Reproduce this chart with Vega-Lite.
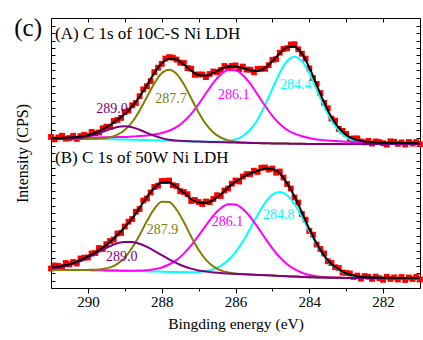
{
  "$schema": "https://vega.github.io/schema/vega-lite/v6.json",
  "width": 369,
  "height": 270,
  "autosize": "none",
  "padding": {"left": 51, "top": 18, "right": 3, "bottom": 52},
  "background": "white",
  "config": {
    "view": {"stroke": null},
    "font": "Liberation Serif",
    "axis": {"grid": false, "domainColor": "black", "domainWidth": 1, "tickColor": "black", "tickWidth": 1, "labelColor": "black", "titleColor": "black", "labelFont": "Liberation Serif", "titleFont": "Liberation Serif", "titleFontWeight": "normal"}
  },
  "datasets": {
    "fits": [
      {"E":291.0,"A_C":149.0,"A_M":149.9,"A_O":149.0,"A_P":149.1,"A_T":150.0,"B_C":18.0,"B_M":18.0,"B_O":18.0,"B_P":19.4,"B_T":20.5},
      {"E":290.8,"A_C":149.0,"A_M":150.0,"A_O":149.0,"A_P":149.1,"A_T":150.1,"B_C":18.0,"B_M":18.0,"B_O":18.0,"B_P":20.4,"B_T":21.5},
      {"E":290.6,"A_C":149.0,"A_M":150.1,"A_O":149.0,"A_P":149.2,"A_T":150.3,"B_C":18.0,"B_M":18.0,"B_O":18.0,"B_P":22.0,"B_T":23.0},
      {"E":290.4,"A_C":149.0,"A_M":150.2,"A_O":149.0,"A_P":149.5,"A_T":150.7,"B_C":18.0,"B_M":18.0,"B_O":18.0,"B_P":24.1,"B_T":25.0},
      {"E":290.2,"A_C":149.0,"A_M":150.3,"A_O":149.0,"A_P":150.1,"A_T":151.4,"B_C":17.9,"B_M":17.9,"B_O":17.9,"B_P":26.9,"B_T":28.0},
      {"E":290.0,"A_C":149.0,"A_M":150.4,"A_O":149.1,"A_P":151.4,"A_T":152.9,"B_C":17.9,"B_M":17.9,"B_O":18.1,"B_P":30.5,"B_T":31.5},
      {"E":289.8,"A_C":148.9,"A_M":150.5,"A_O":149.2,"A_P":153.4,"A_T":155.3,"B_C":17.8,"B_M":17.8,"B_O":18.3,"B_P":34.3,"B_T":35.5},
      {"E":289.6,"A_C":148.9,"A_M":150.7,"A_O":149.7,"A_P":156.1,"A_T":158.7,"B_C":17.7,"B_M":17.7,"B_O":19.0,"B_P":38.3,"B_T":40.5},
      {"E":289.4,"A_C":148.7,"A_M":150.7,"A_O":150.7,"A_P":158.9,"A_T":162.9,"B_C":17.5,"B_M":17.5,"B_O":20.6,"B_P":41.9,"B_T":46.0},
      {"E":289.2,"A_C":148.6,"A_M":150.9,"A_O":153.3,"A_P":161.1,"A_T":168.1,"B_C":17.4,"B_M":17.4,"B_O":24.2,"B_P":44.7,"B_T":53.0},
      {"E":289.0,"A_C":148.4,"A_M":151.1,"A_O":158.0,"A_P":161.8,"A_T":174.1,"B_C":17.2,"B_M":17.3,"B_O":30.4,"B_P":46.0,"B_T":61.0},
      {"E":288.8,"A_C":148.3,"A_M":151.5,"A_O":166.0,"A_P":160.8,"A_T":181.7,"B_C":17.1,"B_M":17.3,"B_O":40.2,"B_P":45.9,"B_T":69.5},
      {"E":288.6,"A_C":148.1,"A_M":151.9,"A_O":177.3,"A_P":158.3,"A_T":191.3,"B_C":16.9,"B_M":17.4,"B_O":52.8,"B_P":44.2,"B_T":80.0},
      {"E":288.4,"A_C":147.9,"A_M":152.5,"A_O":191.0,"A_P":155.1,"A_T":202.8,"B_C":16.7,"B_M":17.8,"B_O":66.9,"B_P":41.1,"B_T":91.0},
      {"E":288.2,"A_C":147.7,"A_M":153.5,"A_O":204.6,"A_P":152.2,"A_T":214.9,"B_C":16.5,"B_M":18.7,"B_O":79.1,"B_P":37.1,"B_T":100.0},
      {"E":288.0,"A_C":147.5,"A_M":155.0,"A_O":214.7,"A_P":149.9,"A_T":224.6,"B_C":16.3,"B_M":20.5,"B_O":86.3,"B_P":32.8,"B_T":105.5},
      {"E":287.8,"A_C":147.2,"A_M":157.2,"A_O":218.2,"A_P":148.3,"A_T":229.3,"B_C":16.1,"B_M":23.5,"B_O":86.1,"B_P":28.7,"B_T":105.5},
      {"E":287.6,"A_C":147.0,"A_M":160.8,"A_O":214.2,"A_P":147.5,"A_T":228.5,"B_C":16.0,"B_M":27.9,"B_O":78.5,"B_P":24.9,"B_T":101.0},
      {"E":287.4,"A_C":146.8,"A_M":166.4,"A_O":203.7,"A_P":147.0,"A_T":223.5,"B_C":15.9,"B_M":34.4,"B_O":65.9,"B_P":21.8,"B_T":95.5},
      {"E":287.2,"A_C":146.6,"A_M":174.2,"A_O":189.7,"A_P":146.7,"A_T":217.4,"B_C":15.8,"B_M":42.6,"B_O":51.3,"B_P":19.4,"B_T":89.0},
      {"E":287.0,"A_C":146.4,"A_M":183.9,"A_O":175.6,"A_P":146.4,"A_T":213.1,"B_C":16.1,"B_M":52.4,"B_O":38.3,"B_P":17.6,"B_T":85.5},
      {"E":286.8,"A_C":146.2,"A_M":194.7,"A_O":163.9,"A_P":146.2,"A_T":212.4,"B_C":17.0,"B_M":62.7,"B_O":28.2,"B_P":16.4,"B_T":85.0},
      {"E":286.6,"A_C":146.2,"A_M":205.2,"A_O":155.6,"A_P":146.0,"A_T":215.0,"B_C":18.8,"B_M":72.4,"B_O":21.6,"B_P":15.6,"B_T":88.0},
      {"E":286.4,"A_C":146.3,"A_M":213.4,"A_O":150.5,"A_P":145.8,"A_T":218.6,"B_C":22.1,"B_M":79.7,"B_O":17.6,"B_P":14.9,"B_T":93.5},
      {"E":286.2,"A_C":146.9,"A_M":217.9,"A_O":147.6,"A_P":145.6,"A_T":221.2,"B_C":27.7,"B_M":83.8,"B_O":15.6,"B_P":14.5,"B_T":100.5},
      {"E":286.0,"A_C":148.5,"A_M":217.7,"A_O":146.2,"A_P":145.4,"A_T":221.6,"B_C":35.8,"B_M":83.5,"B_O":14.5,"B_P":14.1,"B_T":106.0},
      {"E":285.8,"A_C":152.0,"A_M":212.8,"A_O":145.5,"A_P":145.2,"A_T":219.9,"B_C":46.6,"B_M":78.9,"B_O":13.9,"B_P":13.7,"B_T":111.0},
      {"E":285.6,"A_C":158.5,"A_M":204.3,"A_O":145.2,"A_P":145.1,"A_T":217.8,"B_C":59.5,"B_M":71.0,"B_O":13.4,"B_P":13.4,"B_T":114.5},
      {"E":285.4,"A_C":168.6,"A_M":193.4,"A_O":144.9,"A_P":144.9,"A_T":217.1,"B_C":73.0,"B_M":60.8,"B_O":13.1,"B_P":13.1,"B_T":117.0},
      {"E":285.2,"A_C":182.7,"A_M":182.3,"A_O":144.8,"A_P":144.8,"A_T":220.2,"B_C":85.1,"B_M":50.0,"B_O":12.8,"B_P":12.8,"B_T":119.5},
      {"E":285.0,"A_C":199.1,"A_M":172.2,"A_O":144.6,"A_P":144.6,"A_T":226.7,"B_C":93.4,"B_M":39.7,"B_O":12.5,"B_P":12.5,"B_T":119.0},
      {"E":284.8,"A_C":215.2,"A_M":164.1,"A_O":144.5,"A_P":144.5,"A_T":234.8,"B_C":96.1,"B_M":30.8,"B_O":12.1,"B_P":12.1,"B_T":114.5},
      {"E":284.6,"A_C":227.0,"A_M":158.2,"A_O":144.4,"A_P":144.4,"A_T":240.8,"B_C":92.7,"B_M":23.8,"B_O":11.8,"B_P":11.8,"B_T":104.5},
      {"E":284.4,"A_C":231.3,"A_M":154.3,"A_O":144.3,"A_P":144.3,"A_T":241.3,"B_C":83.7,"B_M":18.8,"B_O":11.4,"B_P":11.4,"B_T":91.5},
      {"E":284.2,"A_C":226.8,"A_M":151.7,"A_O":144.2,"A_P":144.2,"A_T":234.3,"B_C":71.0,"B_M":15.3,"B_O":11.1,"B_P":11.1,"B_T":75.5},
      {"E":284.0,"A_C":214.8,"A_M":149.9,"A_O":144.1,"A_P":144.1,"A_T":220.6,"B_C":56.9,"B_M":13.0,"B_O":10.8,"B_P":10.8,"B_T":59.0},
      {"E":283.8,"A_C":198.5,"A_M":148.6,"A_O":144.0,"A_P":144.0,"A_T":203.1,"B_C":43.5,"B_M":11.7,"B_O":10.6,"B_P":10.6,"B_T":44.5},
      {"E":283.6,"A_C":181.9,"A_M":147.8,"A_O":144.0,"A_P":144.0,"A_T":185.7,"B_C":32.2,"B_M":10.9,"B_O":10.4,"B_P":10.4,"B_T":32.5},
      {"E":283.4,"A_C":167.7,"A_M":147.2,"A_O":144.0,"A_P":144.0,"A_T":170.9,"B_C":23.7,"B_M":10.5,"B_O":10.3,"B_P":10.3,"B_T":24.0},
      {"E":283.2,"A_C":157.4,"A_M":146.7,"A_O":144.0,"A_P":144.0,"A_T":160.1,"B_C":17.8,"B_M":10.3,"B_O":10.2,"B_P":10.2,"B_T":18.5},
      {"E":283.0,"A_C":150.8,"A_M":146.3,"A_O":144.0,"A_P":144.0,"A_T":153.1,"B_C":14.1,"B_M":10.1,"B_O":10.1,"B_P":10.1,"B_T":14.5},
      {"E":282.8,"A_C":147.1,"A_M":146.0,"A_O":144.0,"A_P":144.0,"A_T":149.1,"B_C":12.0,"B_M":10.0,"B_O":10.0,"B_P":10.0,"B_T":12.5},
      {"E":282.6,"A_C":145.3,"A_M":145.8,"A_O":144.0,"A_P":144.0,"A_T":147.1,"B_C":10.9,"B_M":10.0,"B_O":10.0,"B_P":10.0,"B_T":11.3},
      {"E":282.4,"A_C":144.5,"A_M":145.6,"A_O":144.0,"A_P":144.0,"A_T":146.1,"B_C":10.4,"B_M":10.0,"B_O":10.0,"B_P":10.0,"B_T":10.7},
      {"E":282.2,"A_C":144.2,"A_M":145.4,"A_O":144.0,"A_P":144.0,"A_T":145.6,"B_C":10.2,"B_M":10.0,"B_O":10.0,"B_P":10.0,"B_T":10.4},
      {"E":282.0,"A_C":144.0,"A_M":145.3,"A_O":144.0,"A_P":144.0,"A_T":145.3,"B_C":10.1,"B_M":10.0,"B_O":10.0,"B_P":10.0,"B_T":10.2},
      {"E":281.8,"A_C":144.0,"A_M":145.2,"A_O":144.0,"A_P":144.0,"A_T":145.2,"B_C":10.0,"B_M":10.0,"B_O":10.0,"B_P":10.0,"B_T":10.1},
      {"E":281.6,"A_C":144.0,"A_M":145.1,"A_O":144.0,"A_P":144.0,"A_T":145.1,"B_C":10.0,"B_M":10.0,"B_O":10.0,"B_P":10.0,"B_T":10.0},
      {"E":281.4,"A_C":144.0,"A_M":145.0,"A_O":144.0,"A_P":144.0,"A_T":145.0,"B_C":10.0,"B_M":10.0,"B_O":10.0,"B_P":10.0,"B_T":10.0},
      {"E":281.2,"A_C":144.0,"A_M":144.9,"A_O":144.0,"A_P":144.0,"A_T":144.9,"B_C":10.0,"B_M":10.0,"B_O":10.0,"B_P":10.0,"B_T":10.0},
      {"E":281.0,"A_C":144.0,"A_M":144.8,"A_O":144.0,"A_P":144.0,"A_T":144.8,"B_C":10.0,"B_M":10.0,"B_O":10.0,"B_P":10.0,"B_T":10.0}
    ],
    "pts": [
      {"E":291.0,"A":151.0,"B":19.5},{"E":290.9,"A":148.6,"B":22.5},{"E":290.8,"A":150.6,"B":22.0},{"E":290.7,"A":152.2,"B":20.8},
      {"E":290.6,"A":149.3,"B":25.0},{"E":290.5,"A":150.0,"B":23.5},{"E":290.4,"A":152.2,"B":26.0},{"E":290.3,"A":149.1,"B":24.5},
      {"E":290.2,"A":151.9,"B":29.5},{"E":290.1,"A":153.2,"B":30.3},{"E":290.0,"A":151.9,"B":30.5},{"E":289.9,"A":156.1,"B":34.5},
      {"E":289.8,"A":154.8,"B":35.0},{"E":289.7,"A":155.5,"B":40.0},{"E":289.6,"A":159.7,"B":39.0},{"E":289.5,"A":161.3,"B":43.8},
      {"E":289.4,"A":160.9,"B":47.0},{"E":289.3,"A":167.0,"B":48.5},{"E":289.2,"A":168.1,"B":54.5},{"E":289.1,"A":170.1,"B":55.0},
      {"E":289.0,"A":176.1,"B":61.5},{"E":288.9,"A":177.4,"B":66.3},{"E":288.8,"A":182.7,"B":69.0},{"E":288.7,"A":185.0,"B":76.3},
      {"E":288.6,"A":191.8,"B":79.0},{"E":288.5,"A":198.6,"B":87.5},{"E":288.4,"A":201.8,"B":89.5},{"E":288.3,"A":206.9,"B":95.5},
      {"E":288.2,"A":215.9,"B":101.0},{"E":288.1,"A":220.3,"B":102.3},{"E":288.0,"A":224.1,"B":107.0},{"E":287.9,"A":229.4,"B":107.0},
      {"E":287.8,"A":230.8,"B":107.5},{"E":287.7,"A":230.4,"B":102.8},{"E":287.6,"A":228.5,"B":102.0},{"E":287.5,"A":225.3,"B":96.8},
      {"E":287.4,"A":225.0,"B":96.0},{"E":287.3,"A":219.9,"B":93.8},{"E":287.2,"A":219.4,"B":87.0},{"E":287.1,"A":213.2,"B":88.0},
      {"E":287.0,"A":213.6,"B":86.0},{"E":286.9,"A":213.5,"B":84.0},{"E":286.8,"A":210.9,"B":86.5},{"E":286.7,"A":214.0,"B":85.8},
      {"E":286.6,"A":216.5,"B":89.0},{"E":286.5,"A":215.8,"B":92.8},{"E":286.4,"A":218.1,"B":92.0},{"E":286.3,"A":222.0,"B":97.5},
      {"E":286.2,"A":220.2,"B":99.5},{"E":286.1,"A":222.1,"B":104.3},{"E":286.0,"A":222.6,"B":107.5},{"E":285.9,"A":218.9,"B":106.5},
      {"E":285.8,"A":221.4,"B":111.5},{"E":285.7,"A":218.4,"B":113.8},{"E":285.6,"A":218.3,"B":114.0},{"E":285.5,"A":215.7,"B":117.3},
      {"E":285.4,"A":219.1,"B":116.0},{"E":285.3,"A":219.3,"B":120.3},{"E":285.2,"A":219.2,"B":120.5},{"E":285.1,"A":222.8,"B":118.5},
      {"E":285.0,"A":228.2,"B":119.5},{"E":284.9,"A":228.8,"B":115.3},{"E":284.8,"A":235.3,"B":116.5},{"E":284.7,"A":239.0,"B":110.5},
      {"E":284.6,"A":239.8,"B":104.0},{"E":284.5,"A":243.5,"B":99.5},{"E":284.4,"A":243.8,"B":90.5},{"E":284.3,"A":238.7,"B":85.5},
      {"E":284.2,"A":234.3,"B":74.0},{"E":284.1,"A":229.4,"B":68.3},{"E":284.0,"A":219.6,"B":57.0},{"E":283.9,"A":210.0,"B":53.3},
      {"E":283.8,"A":204.1,"B":43.5},{"E":283.7,"A":194.9,"B":39.0},{"E":283.6,"A":185.2,"B":34.5},{"E":283.5,"A":179.8,"B":26.8},
      {"E":283.4,"A":169.4,"B":25.0},{"E":283.3,"A":167.3,"B":20.8},{"E":283.2,"A":159.1,"B":20.0},{"E":283.1,"A":157.1,"B":15.5},
      {"E":283.0,"A":154.1,"B":15.0},{"E":282.9,"A":149.1,"B":14.5},{"E":282.8,"A":149.6,"B":11.0},{"E":282.7,"A":149.6,"B":12.4},
      {"E":282.6,"A":146.6,"B":9.3},{"E":282.5,"A":145.6,"B":12.0},{"E":282.4,"A":147.1,"B":11.2},{"E":282.3,"A":144.4,"B":9.1},
      {"E":282.2,"A":146.6,"B":11.4},{"E":282.1,"A":145.9,"B":9.8},{"E":282.0,"A":144.8,"B":8.2},{"E":281.9,"A":143.3,"B":11.2},
      {"E":281.8,"A":146.7,"B":9.1},{"E":281.7,"A":146.2,"B":10.6},{"E":281.6,"A":144.1,"B":8.5},{"E":281.5,"A":145.6,"B":11.0},
      {"E":281.4,"A":143.5,"B":8.0},{"E":281.3,"A":146.0,"B":10.5},{"E":281.2,"A":144.4,"B":9.0},{"E":281.1,"A":145.9,"B":11.0},
      {"E":281.0,"A":143.8,"B":8.5}
    ],
    "labels": [
      {"E":289.35,"I":179.5,"text":"289.0","curve":"A_P"},
      {"E":287.75,"I":189,"text":"287.7","curve":"A_O"},
      {"E":286.05,"I":193,"text":"286.1","curve":"A_M"},
      {"E":284.37,"I":203,"text":"284.4","curve":"A_C"},
      {"E":289.08,"I":31.5,"text":"289.0","curve":"B_P"},
      {"E":287.98,"I":58,"text":"287.9","curve":"B_O"},
      {"E":286.22,"I":66.5,"text":"286.1","curve":"B_M"},
      {"E":284.83,"I":73,"text":"284.8","curve":"B_C"}
    ],
    "titles": [
      {"E":290.89,"I":254.5,"text":"(A) C 1s of 10C-S Ni LDH"},
      {"E":290.89,"I":130.5,"text":"(B) C 1s of 50W Ni LDH"}
    ],
    "tag": [
      {"E":291.62,"I":260,"text":"(c)"}
    ]
  },
  "layer": [
    {
      "data": {"name": "pts"},
      "transform": [{"fold": ["A", "B"], "as": ["panel", "I"]}],
      "mark": {"type": "point", "shape": "square", "filled": true, "size": 34, "color": "#ff0000", "opacity": 1},
      "encoding": {
        "x": {"field": "E", "type": "quantitative",
          "scale": {"domain": [281, 291], "reverse": true, "nice": false, "zero": false},
          "axis": {"orient": "bottom", "values": [282, 284, 286, 288, 290], "tickSize": 5, "labelFont": "Liberation Serif", "labelFontSize": 15, "labelPadding": 1, "title": "Bingding energy (eV)", "titleFont": "Liberation Serif", "titleFontSize": 15.5, "titleFontWeight": "normal", "titlePadding": 7}},
        "y": {"field": "I", "type": "quantitative",
          "scale": {"domain": [0, 270], "nice": false, "zero": false},
          "axis": {"orient": "left", "values": [0,7.5,15,22.5,30,37.5,45,52.5,60,67.5,75,82.5,90,97.5,105,112.5,120,127.5,135,142.5,150,157.5,165,172.5,180,187.5,195,202.5,210,217.5,225,232.5,240,247.5,255,262.5,270], "tickSize": -4, "labels": false, "title": "Intensity (CPS)", "titleFont": "Liberation Serif", "titleFontSize": 16, "titleFontWeight": "normal", "titlePadding": 20}}
      }
    },
    {
      "data": {"name": "fits"},
      "transform": [{"fold": ["A_C", "A_M", "A_O", "A_P", "B_C", "B_M", "B_O", "B_P"], "as": ["curve", "I"]}],
      "mark": {"type": "line", "strokeWidth": 2, "interpolate": "monotone"},
      "encoding": {
        "x": {"field": "E", "type": "quantitative",
          "scale": {"domain": [281, 291], "reverse": true, "nice": false, "zero": false},
          "axis": {"orient": "bottom", "values": [283, 285, 287, 289], "tickSize": 3, "labels": false, "domain": false, "title": null}},
        "y": {"field": "I", "type": "quantitative",
          "scale": {"domain": [0, 270], "nice": false, "zero": false},
          "axis": {"orient": "right", "values": [0,7.5,15,22.5,30,37.5,45,52.5,60,67.5,75,82.5,90,97.5,105,112.5,120,127.5,135,142.5,150,157.5,165,172.5,180,187.5,195,202.5,210,217.5,225,232.5,240,247.5,255,262.5,270], "tickSize": -4, "labels": false, "title": null}},
        "color": {"field": "curve", "type": "nominal",
          "scale": {"domain": ["A_C","A_M","A_O","A_P","B_C","B_M","B_O","B_P"], "range": ["#00ffff","#ff00ff","#808000","#800080","#00ffff","#ff00ff","#808000","#800080"]},
          "legend": null}
      }
    },
    {
      "data": {"name": "fits"},
      "transform": [{"fold": ["A_T", "B_T"], "as": ["curve", "I"]}],
      "mark": {"type": "line", "strokeWidth": 2, "color": "black", "interpolate": "monotone"},
      "encoding": {
        "x": {"field": "E", "type": "quantitative",
          "scale": {"domain": [281, 291], "reverse": true, "nice": false, "zero": false},
          "axis": {"orient": "top", "values": [282, 283, 284, 285, 286, 287, 288, 289, 290], "tickSize": -4, "labels": false, "title": null}},
        "y": {"field": "I", "type": "quantitative", "axis": null},
        "detail": {"field": "curve"}
      }
    },
    {
      "data": {"name": "labels"},
      "mark": {"type": "text", "font": "Liberation Serif", "fontSize": 14, "align": "center", "baseline": "middle"},
      "encoding": {
        "x": {"field": "E", "type": "quantitative", "axis": null},
        "y": {"field": "I", "type": "quantitative", "axis": null},
        "text": {"field": "text"},
        "color": {"field": "curve", "type": "nominal", "legend": null}
      }
    },
    {
      "data": {"name": "titles"},
      "mark": {"type": "text", "font": "Liberation Serif", "fontSize": 17, "align": "left", "baseline": "middle", "color": "black"},
      "encoding": {
        "x": {"field": "E", "type": "quantitative", "axis": null},
        "y": {"field": "I", "type": "quantitative", "axis": null},
        "text": {"field": "text"}
      }
    },
    {
      "data": {"name": "tag"},
      "mark": {"type": "text", "font": "Liberation Serif", "fontSize": 25, "align": "center", "baseline": "middle", "color": "black"},
      "encoding": {
        "x": {"field": "E", "type": "quantitative", "axis": null},
        "y": {"field": "I", "type": "quantitative", "axis": null},
        "text": {"field": "text"}
      }
    }
  ],
  "resolve": {"axis": {"x": "independent", "y": "independent"}}
}
